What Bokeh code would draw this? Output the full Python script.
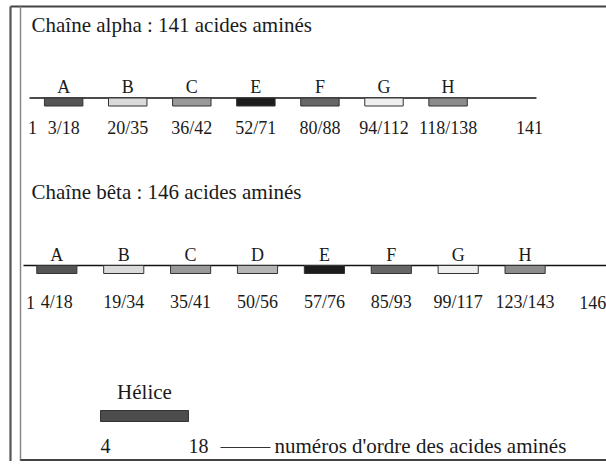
from bokeh.plotting import figure
from bokeh.models import Range1d, Label, ColumnDataSource
from bokeh.core.properties import value
from bokeh.embed import file_html
from bokeh.resources import INLINE

# ---------------- data ----------------
alpha_title = "Chaîne alpha : 141 acides aminés"
alpha_length = 141
alpha_helices = ["A", "B", "C", "E", "F", "G", "H"]
alpha_start = [3, 20, 36, 52, 80, 94, 118]
alpha_end = [18, 35, 42, 71, 88, 112, 138]

beta_title = "Chaîne bêta : 146 acides aminés"
beta_length = 146
beta_helices = ["A", "B", "C", "D", "E", "F", "G", "H"]
beta_start = [4, 19, 35, 50, 57, 85, 99, 123]
beta_end = [18, 34, 41, 56, 76, 93, 117, 143]

legend_title = "Hélice"
legend_start = 4
legend_end = 18
legend_caption = "numéros d'ordre des acides aminés"

# ---------------- styles ----------------
HELIX_FILL = {"A": "#555555", "B": "#dadada", "C": "#999999", "D": "#b5b5b5",
              "E": "#1c1c1c", "F": "#666666", "G": "#efefef", "H": "#8c8c8c"}
FONT_NAME = "Liberation Serif"
FONT = value(FONT_NAME)
TXT = "#1a1a1a"
W, H = 606, 461

# x: schematic helix slots (one slot per helix, in order along the chain)
p = figure(width=W, height=H, output_backend="svg", toolbar_location=None,
           x_range=Range1d(-0.986, 8.473), y_range=Range1d(H, 0),
           x_axis_location=None, y_axis_location=None, min_border=0,
           background_fill_color="white", border_fill_color="white")
p.grid.visible = False
p.outline_line_color = None
p.extra_x_ranges = {"beta": Range1d(-0.842, 8.217),
                    "legend": Range1d(-11.91, 84.5),   # residue units for the key
                    "px": Range1d(0, W)}

# frame of the figure
p.segment(x0=[10, 10, 20, 20], x1=[W, 10, 20, W],
          y0=[6, 6, 6, H - 1.5], y1=[6, H, H, H - 1.5],
          line_color=["#444444", "#555555", "#888888", "#444444"],
          line_width=[2, 2.2, 1.5, 2], x_range_name="px")


def draw_chain(rng, title, helices, starts, ends, length, y_title, y_line, y_letter, y_num,
               first_pos, last_gap, line_left, line_gap):
    n = len(helices)
    slots = list(range(n))
    src = ColumnDataSource(dict(x=slots, name=helices,
                                span=[f"{s}/{e}" for s, e in zip(starts, ends)],
                                color=[HELIX_FILL[h] for h in helices]))
    p.add_layout(Label(x=31, y=y_title, text=title, x_range_name="px",
                       text_font=FONT_NAME, text_font_size="21px", text_color=TXT,
                       text_baseline="middle"))
    p.segment(x0=[line_left], x1=[n + line_gap], y0=[y_line], y1=[y_line],
              line_color="#111111", line_width=1.3, x_range_name=rng)
    p.rect(x="x", y=y_line + 4, width=0.6, height=8,
           height_units="screen", fill_color="color", line_color="#333333",
           line_width=1, source=src, x_range_name=rng)
    p.text(x="x", y=y_letter, text="name", source=src, x_range_name=rng,
           text_font=FONT, text_font_size="18px", text_color=TXT,
           text_align="center", text_baseline="middle")
    p.text(x="x", y=y_num, text="span", source=src, x_range_name=rng,
           text_font=FONT, text_font_size="18px", text_color=TXT,
           text_align="center", text_baseline="middle")
    p.text(x=[first_pos, n + last_gap], y=[y_num, y_num], text=["1", str(length)],
           x_range_name=rng, text_font=FONT, text_font_size="18px", text_color=TXT,
           text_align="center", text_baseline="middle")


draw_chain("default", alpha_title, alpha_helices, alpha_start, alpha_end, alpha_length,
           24, 97.5, 86, 127, -0.486, 0.27, -0.533, 0.38)
draw_chain("beta", beta_title, beta_helices, beta_start, beta_end, beta_length,
           191.5, 265, 254.5, 301.5, -0.394, 0.01, -0.498, 0.4)

# key
p.rect(x=[(legend_start + legend_end) / 2], y=[415.5], width=[legend_end - legend_start],
       height=11, height_units="screen", fill_color="#4d4d4d", line_color="#333333",
       x_range_name="legend")
p.text(x=[(legend_start + legend_end) / 2], y=[391], text=[legend_title],
       x_range_name="legend", text_font=FONT, text_font_size="21px", text_color=TXT,
       text_align="center", text_baseline="middle")
p.text(x=[legend_start, legend_end], y=[445, 445],
       text=[str(legend_start), str(legend_end)], x_range_name="legend",
       text_font=FONT, text_font_size="20px", text_color=TXT,
       text_align="left", text_baseline="middle")
p.segment(x0=[220], x1=[270], y0=[447], y1=[447], line_color="#333333",
          line_width=1.2, x_range_name="px")
p.add_layout(Label(x=274, y=445, text=legend_caption, x_range_name="px",
                   text_font=FONT_NAME, text_font_size="21px", text_color=TXT,
                   text_baseline="middle"))

open("out.html", "w").write(file_html(p, INLINE))
